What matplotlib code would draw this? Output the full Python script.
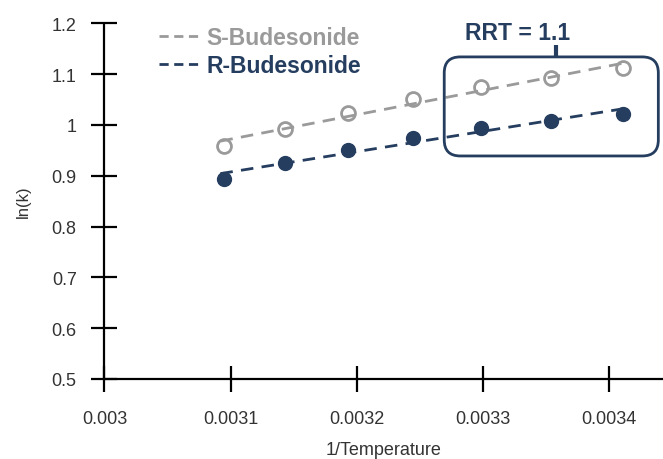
import numpy as np
import matplotlib
matplotlib.use('Agg')
from matplotlib import pyplot as plt
from matplotlib.patches import FancyBboxPatch

plt.rcParams['font.family'] = ['Liberation Sans', 'DejaVu Sans']

# 1/T for 50, 45, 40, 35, 30, 25, 20 degC
inv_temp = [0.003095, 0.003143, 0.003193, 0.003245, 0.003299, 0.003354, 0.003411]
ln_k_s = [0.959, 0.992, 1.023, 1.051, 1.074, 1.093, 1.112]
ln_k_r = [0.894, 0.925, 0.951, 0.974, 0.994, 1.008, 1.022]
x_ticks = [0.003, 0.0031, 0.0032, 0.0033, 0.0034]
x_ticklabels = ['0.003', '0.0031', '0.0032', '0.0033', '0.0034']
y_ticks = [0.5, 0.6, 0.7, 0.8, 0.9, 1.0, 1.1, 1.2]
y_ticklabels = ['0.5', '0.6', '0.7', '0.8', '0.9', '1', '1.1', '1.2']
rrt_text = 'RRT = 1.1'

gray = '#9a9a9a'
navy = '#253d5f'

fig = plt.figure(figsize=(6.63, 4.6), dpi=100)
ax = fig.add_axes([0.1575, 0.174, 0.8425, 0.773])

x = np.array(inv_temp)
ax.plot(x, ln_k_s, 'o', ms=10, mfc='white', mec=gray, mew=2, zorder=3)
ax.plot(x, ln_k_r, 'o', ms=10, mfc=navy, mec=navy, mew=1, zorder=3)

# linear trendlines
xx = np.array([x[0] - 0.000003, x[-1] + 0.000003])
for yv, col, lab in [(ln_k_s, gray, 'S-Budesonide'), (ln_k_r, navy, 'R-Budesonide')]:
    p = np.polyfit(x, yv, 1)
    ax.plot(xx, np.polyval(p, xx), color=col, lw=2, dashes=(4.5, 3), label=lab, zorder=4)

ax.set_xlim(0.003, 0.003443)
ax.set_ylim(0.5, 1.2)
ax.set_xticks(x_ticks, x_ticklabels)
ax.set_yticks(y_ticks, y_ticklabels)
for s in ['top', 'right']:
    ax.spines[s].set_visible(False)
for s in ['left', 'bottom']:
    ax.spines[s].set_linewidth(1.6)
    ax.spines[s].set_capstyle('butt')
ax.tick_params(direction='inout', length=19, width=1.6, labelsize=13,
               labelcolor='#333333')
ax.tick_params(axis='y', pad=10.5)
ax.tick_params(axis='x', pad=12.5)
ax.set_xlabel('1/Temperature', fontsize=13, color='#333333', labelpad=10.5)
ax.set_ylabel('ln(k)', fontsize=12, color='#333333', labelpad=15)

leg = ax.legend(loc='upper left', bbox_to_anchor=(0.078, 1.024), frameon=False,
                prop={'weight': 'bold', 'size': 16.5},
                handlelength=1.75, handletextpad=0.3, labelspacing=0.21,
                borderpad=0, labelcolor='linecolor')
for ln in leg.get_lines():
    ln.set_dashes((3.3, 2))

# rounded callout box around the last three points
fig.canvas.draw()
bb = ax.get_window_extent()
px_x = bb.width / (0.003443 - 0.003)
px_y = bb.height / 0.7
r = 16
box = FancyBboxPatch((0.0032695, 0.939), 0.0001698, 0.195,
                     boxstyle='round,pad=0,rounding_size=%g' % (r / px_x),
                     mutation_aspect=px_x / px_y,
                     fc='none', ec=navy, lw=2, zorder=5, clip_on=False)
ax.add_patch(box)
ax.plot([0.0033584, 0.0033584], [1.134, 1.158], color=navy, lw=3,
        solid_capstyle='butt', clip_on=False, zorder=5)
ax.text(0.0033274, 1.182, rrt_text, ha='center', va='center', fontsize=16.5,
        fontweight='bold', color=navy)

fig.savefig('out.png', dpi=100)
